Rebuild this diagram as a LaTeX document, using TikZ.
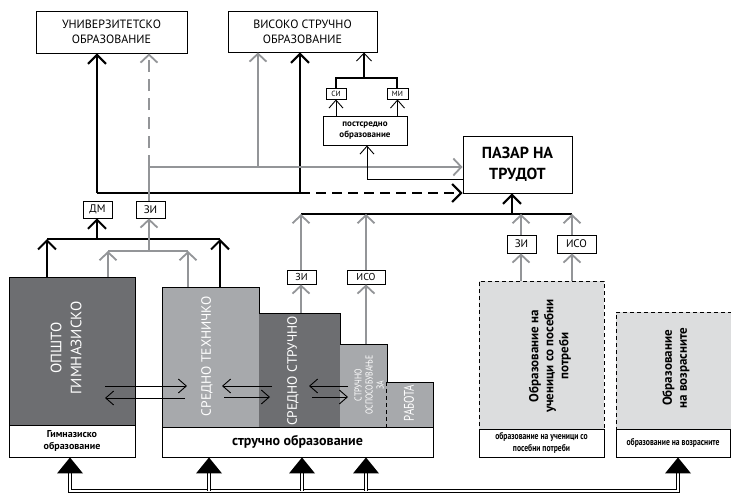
\documentclass[tikz,border=0pt]{standalone}
\usepackage{fontspec}
\setmainfont{PT Sans}
\newfontfamily\condf{PT Sans}[FakeStretch=0.78]
\usetikzlibrary{arrows.meta,fit,calc}
\definecolor{dg}{HTML}{6D6E71}
\definecolor{lg}{HTML}{A7A9AC}
\definecolor{vlg}{HTML}{DCDDDE}
\definecolor{ag}{HTML}{939598}
\tikzset{
 box/.style={draw, line width=0.9pt, fill=white, inner sep=0pt, align=center, anchor=center},
 tag/.style={draw, line width=0.8pt, fill=white, inner sep=0pt, anchor=center},
 wh/.style 2 args={minimum width=#1pt, minimum height=#2pt},
 region/.style={inner sep=0pt},
 bkl/.style={line width=2pt, black},
 bka/.style={bkl, -{Straight Barb[length=9pt,width=18pt]}},
 grl/.style={line width=1.8pt, ag},
 gra/.style={grl, -{Straight Barb[length=8pt,width=17pt]}},
 mdl/.style={line width=1.4pt, black},
 thn/.style={line width=0.9pt, black, -{Straight Barb[length=8pt,width=14pt]}},
 dbl/.style={double, line width=0.7pt, double distance=2.4pt, line join=miter},
 rot/.style={rotate=90, align=center, inner sep=0pt},
 dashbox/.style={draw, fill=vlg, inner sep=0pt, line width=0.9pt, dash pattern=on 4pt off 3pt},
}
\begin{document}
\begin{tikzpicture}[x=1pt,y=-1pt]
\useasboundingbox (0,0) rectangle (731,495);

% ---------- top boxes
\node[box, wh={151}{42}, font=\fontsize{12}{15}\selectfont] (uni) at (111.5,32) {УНИВЕРЗИТЕТСКО\\ОБРАЗОВАНИЕ};
\node[box, wh={149}{41}, font=\fontsize{12}{15}\selectfont] (vis) at (302.5,31.5) {ВИСОКО СТРУЧНО\\ОБРАЗОВАНИЕ};
\node[box, wh={109}{57}, font=\bfseries\fontsize{16}{21}\selectfont] (pazar) at (517.5,164.5) {ПАЗАР НА\\ТРУДОТ};
\node[box, wh={84}{29}, font=\bfseries\fontsize{9}{11}\selectfont] (post) at (365,130.5) {постсредно\\образование};
\node[tag, wh={20}{11}, font=\fontsize{7.5}{8}\selectfont] (si) at (336,93.5) {СИ};
\node[tag, wh={21}{11}, font=\fontsize{7.5}{8}\selectfont] (mi) at (397.5,93.5) {МИ};
\node[tag, wh={29}{17}, font=\fontsize{11}{12}\selectfont] (dm) at (97.5,209.5) {ДМ};
\node[tag, wh={29}{17}, font=\fontsize{11}{12}\selectfont] (zia) at (150.5,209.5) {ЗИ};
\node[tag, wh={29}{14}, font=\fontsize{10}{11}\selectfont] (zib) at (301.5,277) {ЗИ};
\node[tag, wh={38}{14}, font=\fontsize{10}{11}\selectfont] (isob) at (366,277) {ИСО};
\node[tag, wh={29}{18}, font=\fontsize{11}{12}\selectfont] (zic) at (521.5,244) {ЗИ};
\node[tag, wh={39}{18}, font=\fontsize{11}{12}\selectfont] (isoc) at (576.5,244) {ИСО};

% ---------- school boxes
\node[region, draw, line width=1pt, fill=dg, fit={(9,277) (135,425)}] (gym) {};
\node[box, wh={126}{32}, font=\bfseries\fontsize{10}{12}\selectfont] (gymlab) at (72,441) {Гимназиско\\образование};

\node[region, fill=lg, fit={(162,287) (259,427)}] (tech) {};
\node[region, fill=dg, fit={(259,313) (340,427)}] (sred) {};
\node[region, fill=lg, fit={(340,344) (387,427)}] (osp) {};
\node[region, fill=lg, fit={(387,382) (433,427)}] (rab) {};
\draw[line width=1pt] (162,427) -- (162,287) -- (259,287) -- (259,313) -- (340,313) -- (340,344) -- (387,344) -- (387,382) -- (433,382) -- (433,427);
\draw[line width=1pt, dash pattern=on 4pt off 3pt] (rab.north west) -- (rab.south west);
\node[box, wh={271}{30}, font=\bfseries\fontsize{14}{16}\selectfont] (strlab) at (297.5,442) {стручно образование};

\node[dashbox, fit={(479,281) (604,429)}] (spec) {};
\node[box, wh={125}{28}, font=\condf\bfseries\fontsize{9.8}{11.5}\selectfont] (speclab) at (541.5,443) {образование на ученици со\\посебни потреби};
\node[dashbox, fit={(616,312) (731,429)}] (adult) {};
\node[box, wh={114}{28}, font=\condf\bfseries\fontsize{9.8}{11.5}\selectfont] (adultlab) at (673,443) {образование на возрасните};

% ---------- rotated texts
\node[rot, white, font=\fontsize{15}{20}\selectfont] (gymtxt) at (66,348) {ОПШТО\\ГИМНАЗИСКО};
\node[rot, white, font=\fontsize{13.5}{16}\selectfont] (techtxt) at (207,356) {СРЕДНО ТЕХНИЧКО};
\node[rot, white, font=\fontsize{13.5}{16}\selectfont] (sredtxt) at (293,371) {СРЕДНО СТРУЧНО};
\node[rot, white, font=\condf\fontsize{10}{11}\selectfont] (osptxt) at (369,385) {СТРУЧНО\\ОСПОСОБУВАЊЕ\\ЗА};
\node[rot, white, font=\condf\fontsize{14}{16}\selectfont] (rabtxt) at (409,403) {РАБОТА};
\node[rot, font=\bfseries\fontsize{13}{15}\selectfont] (spectxt) at (550,356) {Образование на\\ученици со посебни\\потреби};
\node[rot, font=\bfseries\fontsize{13}{15}\selectfont] (adulttxt) at (676,368) {Образование\\на возрасните};

% ---------- upper black network
\coordinate (b1) at (97,193);
\coordinate (b2) at (300,193);
\draw[bkl] (b1) -- (b2);
\draw[bka] (b1) -- (b1 |- uni.south);
\draw[bka] (b2) -- (b2 |- vis.south);
\draw[bka, dash pattern=on 10pt off 6pt] (b2) -- (b2 -| pazar.west);

% ---------- upper gray network
\coordinate (g1) at (149,167);
\coordinate (g2) at (258,167);
\draw[grl] (zia.north -| g1) -- (g1);
\draw[gra, dash pattern=on 12pt off 7pt] (g1) -- (g1 |- uni.south);
\draw[gra] (g1) -- (g1 -| pazar.west);
\draw[gra] (g2) -- (g2 |- vis.south);

% ---------- postsecondary
\coordinate (t1) at (367,179);
\draw[thn] (t1 -| pazar.west) -- (t1) -- (t1 |- post.south);
\draw[thn] (post.north -| si.south) -- (si.south);
\draw[thn] (post.north -| mi.south) -- (mi.south);
\coordinate (p1) at (336,78);
\coordinate (p2) at (397,78);
\coordinate (p3) at (364,78);
\draw[mdl] (si.north) -- (p1) -- (p2) -- (p2 |- mi.north);
\draw[mdl, -{Straight Barb[length=8pt,width=15pt,line width=0.9pt]}] (p3) -- (p3 |- vis.south);

% ---------- lower left trees
\coordinate (k1) at (47,239);
\coordinate (k2) at (220,239);
\coordinate (k3) at (97,239);
\draw[bkl] (k1) -- (k2);
\draw[bka] (k3) -- (k3 |- dm.south);
\draw[bka] (k1 |- gym.north) -- (k1);
\draw[bka] (k2 |- tech.north) -- (k2);

\coordinate (h1) at (108,251);
\coordinate (h2) at (188,251);
\coordinate (h3) at (149,251);
\draw[grl] (h1) -- (h2);
\draw[gra] (h3) -- (h3 |- zia.south);
\draw[gra] (h1 |- gym.north) -- (h1);
\draw[gra] (h2 |- tech.north) -- (h2);

% ---------- right tree to labour market
\coordinate (r1) at (301,214);
\coordinate (r2) at (572,214);
\coordinate (r3) at (512,214);
\coordinate (r4) at (366,214);
\coordinate (r5) at (521,214);
\draw[line width=1.8pt] (r1) -- (r2);
\draw[bka] (r3) -- (pazar.south -| r3);
\draw[gra] (r1 |- zib.north) -- (r1);
\draw[gra] (r4 |- isob.north) -- (r4);
\draw[gra] (r5 |- zic.north) -- (r5);
\draw[gra] (r2 |- isoc.north) -- (r2);
\draw[gra] (r1 |- sred.north) -- (r1 |- zib.south);
\draw[gra] (r4 |- osp.north) -- (r4 |- isob.south);
\draw[gra] (r5 |- spec.north) -- (r5 |- zic.south);
\draw[gra] (r2 |- spec.north) -- (r2 |- isoc.south);

% ---------- transfer arrows
\coordinate (ta1) at (105,386); \coordinate (ta2) at (187,386);
\coordinate (ta3) at (185,398); \coordinate (ta4) at (105,398);
\draw[thn] (ta1) -- (ta2);
\draw[thn] (ta3) -- (ta4);
\coordinate (tb1) at (272,386); \coordinate (tb2) at (222,386);
\coordinate (tb3) at (224,397); \coordinate (tb4) at (270,397);
\draw[thn] (tb1) -- (tb2);
\draw[thn] (tb3) -- (tb4);
\coordinate (tc1) at (348,386); \coordinate (tc2) at (309,386);
\coordinate (tc3) at (312,397); \coordinate (tc4) at (348,397);
\draw[thn] (tc1) -- (tc2);
\draw[thn] (tc3) -- (tc4);

% ---------- bottom double arrows
\coordinate (q1) at (70,491);
\coordinate (q2) at (209,491);
\coordinate (q3) at (302,491);
\coordinate (q4) at (366,491);
\coordinate (q5) at (678,491);
\draw[dbl] ($(q1 |- gymlab.south)+(0,15)$) -- (q1) -- (q5) -- ($(q5 |- adultlab.south)+(0,15)$);
\foreach \q in {q2,q3,q4} {
  \draw[dbl] (\q) -- ($(\q |- strlab.south)+(0,15)$);
}
\foreach \q/\n in {q1/gymlab,q2/strlab,q3/strlab,q4/strlab,q5/adultlab} {
  \fill ($(\q |- \n.south)$) -- ++(-13,16) -- ++(26,0) -- cycle;
}
\end{tikzpicture}
\end{document}
